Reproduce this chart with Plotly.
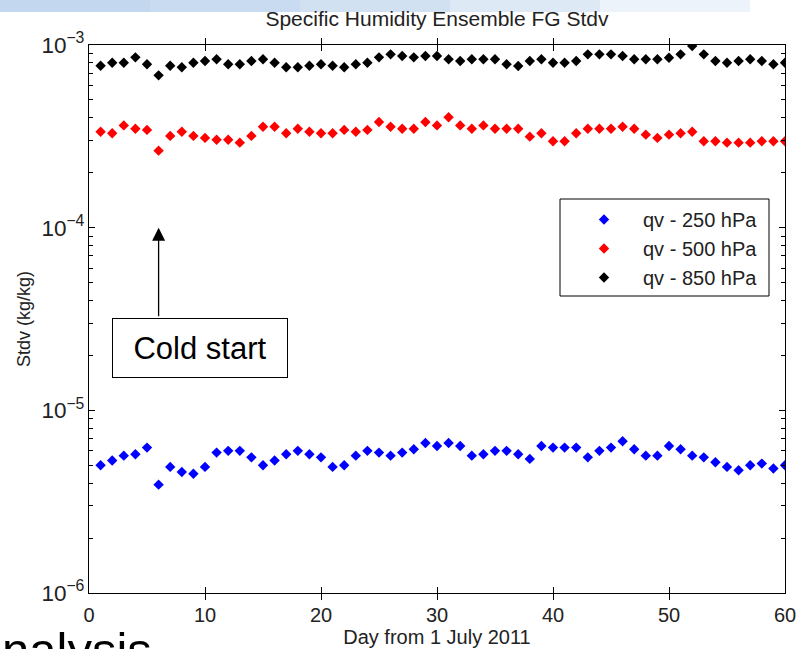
import plotly.graph_objects as go

days = list(range(1, 61))

qv250 = [5.00e-6, 5.31e-6, 5.65e-6, 5.75e-6, 6.25e-6, 3.92e-6, 4.90e-6, 4.60e-6, 4.50e-6, 4.90e-6,
         5.87e-6, 6.00e-6, 6.00e-6, 5.53e-6, 5.00e-6, 5.31e-6, 5.75e-6, 6.00e-6, 5.75e-6, 5.53e-6,
         4.90e-6, 5.00e-6, 5.65e-6, 6.00e-6, 5.87e-6, 5.65e-6, 5.87e-6, 6.12e-6, 6.63e-6, 6.38e-6,
         6.63e-6, 6.38e-6, 5.65e-6, 5.75e-6, 6.00e-6, 6.00e-6, 5.75e-6, 5.42e-6, 6.38e-6, 6.25e-6,
         6.25e-6, 6.25e-6, 5.53e-6, 6.00e-6, 6.25e-6, 6.77e-6, 6.12e-6, 5.65e-6, 5.65e-6, 6.38e-6,
         6.12e-6, 5.65e-6, 5.53e-6, 5.20e-6, 4.90e-6, 4.70e-6, 5.00e-6, 5.11e-6, 4.80e-6, 5.00e-6]

qv500 = [3.35e-4, 3.29e-4, 3.63e-4, 3.48e-4, 3.43e-4, 2.64e-4, 3.18e-4, 3.35e-4, 3.18e-4, 3.10e-4,
         3.03e-4, 3.03e-4, 2.92e-4, 3.18e-4, 3.57e-4, 3.57e-4, 3.29e-4, 3.48e-4, 3.35e-4, 3.29e-4,
         3.29e-4, 3.43e-4, 3.35e-4, 3.43e-4, 3.79e-4, 3.57e-4, 3.48e-4, 3.48e-4, 3.79e-4, 3.63e-4,
         4.02e-4, 3.63e-4, 3.48e-4, 3.63e-4, 3.48e-4, 3.48e-4, 3.48e-4, 3.15e-4, 3.29e-4, 2.97e-4,
         2.97e-4, 3.29e-4, 3.48e-4, 3.48e-4, 3.48e-4, 3.57e-4, 3.48e-4, 3.23e-4, 3.10e-4, 3.23e-4,
         3.29e-4, 3.35e-4, 2.97e-4, 2.97e-4, 2.92e-4, 2.92e-4, 2.92e-4, 2.97e-4, 2.97e-4, 2.97e-4]

qv850 = [7.70e-4, 8.00e-4, 8.00e-4, 8.56e-4, 7.84e-4, 6.82e-4, 7.70e-4, 7.55e-4, 8.00e-4, 8.17e-4,
         8.35e-4, 7.84e-4, 7.84e-4, 8.17e-4, 8.35e-4, 8.00e-4, 7.55e-4, 7.55e-4, 7.70e-4, 7.84e-4,
         7.70e-4, 7.55e-4, 7.84e-4, 8.00e-4, 8.56e-4, 8.89e-4, 8.71e-4, 8.56e-4, 8.71e-4, 8.71e-4,
         8.35e-4, 8.17e-4, 8.35e-4, 8.35e-4, 8.35e-4, 7.84e-4, 7.67e-4, 8.17e-4, 8.35e-4, 8.00e-4,
         8.00e-4, 8.17e-4, 8.89e-4, 8.89e-4, 8.89e-4, 8.71e-4, 8.35e-4, 8.35e-4, 8.35e-4, 8.52e-4,
         8.89e-4, 9.87e-4, 8.89e-4, 8.17e-4, 8.00e-4, 8.17e-4, 8.35e-4, 8.17e-4, 7.84e-4, 8.00e-4]

series_names = ["qv - 250 hPa", "qv - 500 hPa", "qv - 850 hPa"]
series_colors = ["#0000ff", "#ff0000", "#000000"]
x_ticks = [0, 10, 20, 30, 40, 50, 60]
y_minor_ticks = [m * 10.0 ** e for e in (-6, -5, -4) for m in range(2, 10)]

FONT = "Liberation Sans, Arial, Helvetica, sans-serif"
TXT = "#222222"

fig = go.Figure()
for name, vals, col in zip(series_names, [qv250, qv500, qv850], series_colors):
    fig.add_trace(go.Scatter(
        x=days, y=vals, mode="markers", name=name, legendgroup=name,
        marker=dict(symbol="diamond", size=8, color=col, line=dict(width=0)),
    ))

# invisible companion trace so the minor-tick overlay axis is drawn
fig.add_trace(go.Scatter(x=days, y=qv500, yaxis="y2", mode="markers", showlegend=False,
                         hoverinfo="skip", marker=dict(opacity=0, size=1)))

W, H = 798, 649
L, R, T, B = 89, 13, 45, 56
PW, PH = W - L - R, H - T - B

fig.update_layout(
    width=W, height=H,
    margin=dict(l=L, r=R, t=T, b=B, pad=0, autoexpand=False),
    paper_bgcolor="white", plot_bgcolor="white",
    font=dict(family=FONT, size=20, color="black"),
    title=dict(text="Specific Humidity Ensemble FG Stdv", x=(L + PW / 2) / W,
               xanchor="center", y=1 - 19 / H, yanchor="middle",
               font=dict(family=FONT, size=21, color=TXT)),
    showlegend=True,
    legend=dict(x=(565 - L) / PW, y=(H - B - 200) / PH,
                xanchor="left", yanchor="top", bgcolor="rgba(0,0,0,0)",
                borderwidth=0,
                font=dict(family=FONT, size=20, color=TXT),
                itemwidth=68, tracegroupgap=0, itemsizing="trace"),
    yaxis2=dict(type="log", range=[-6, -3], overlaying="y", side="left", anchor="x",
                tickvals=y_minor_ticks, showticklabels=False, automargin=False,
                ticks="inside", ticklen=4, tickcolor="black", tickwidth=1,
                showline=False, showgrid=False, zeroline=False, mirror="allticks"),
)

fig.update_xaxes(
    range=[0, 60], tickvals=x_ticks, ticktext=[str(v) for v in x_ticks],
    automargin=False,
    showgrid=False, zeroline=False, showline=True, linecolor="black", linewidth=1,
    mirror="allticks", ticks="inside", ticklen=6, tickcolor="black",
    ticklabelstandoff=4,
    tickfont=dict(family=FONT, size=20, color=TXT),
    title=dict(text="Day from 1 July 2011", standoff=1,
               font=dict(family=FONT, size=20, color=TXT)),
)
fig.update_layout(yaxis=dict(
    type="log", range=[-6, -3], dtick=1, exponentformat="power",
    automargin=False,
    showgrid=False, zeroline=False, showline=True, linecolor="black", linewidth=1,
    mirror="allticks", ticks="inside", ticklen=6, tickcolor="black",
    tickfont=dict(family=FONT, size=18, color=TXT),
    title=dict(text="Stdv (kg/kg)", standoff=6,
               font=dict(family=FONT, size=18, color=TXT)),
))

# decorative slide banner at the very top
for i, op in enumerate([1.0, 0.9, 0.75, 0.55, 0.3]):
    fig.add_shape(type="rect", xref="paper", yref="paper",
                  x0=(-L + i * 150) / PW, x1=(-L + (i + 1) * 150) / PW,
                  y0=(H - B - 12) / PH, y1=(H - B) / PH + 0.2,
                  fillcolor="#c3d7ee", opacity=op, line=dict(width=0), layer="below")

# legend frame
fig.add_shape(type="rect", xref="paper", yref="paper",
              x0=(560 - L) / PW, x1=(769 - L) / PW,
              y0=(H - B - 296) / PH, y1=(H - B - 199) / PH,
              fillcolor="white", line=dict(color="black", width=1), layer="above")

# cold start arrow + box
fig.add_annotation(x=6, y=-4, xref="x", yref="y", text="", showarrow=True,
                   ax=0, ay=90, arrowhead=2, arrowsize=2.0, arrowwidth=1.3, arrowcolor="black")
fig.add_annotation(x=(200 - L) / PW, y=(H - B - 347.5) / PH,
                   xref="paper", yref="paper", text="Cold start", showarrow=False,
                   xanchor="center", yanchor="middle", width=172, height=56,
                   bordercolor="black", borderwidth=1, bgcolor="white",
                   font=dict(family=FONT, size=31, color="black"))

# slide text fragment at bottom-left
fig.add_annotation(x=-L / PW, y=(H - B - 621) / PH, xref="paper", yref="paper",
                   text="nalysis", showarrow=False, xanchor="left", yanchor="top",
                   font=dict(family=FONT, size=49, color="black"))

fig.write_html("out.html")
